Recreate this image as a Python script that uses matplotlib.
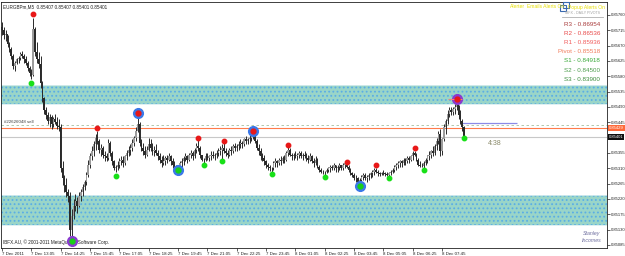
import numpy as np
import matplotlib
matplotlib.use("Agg")
import matplotlib.pyplot as plt

plt.rcParams['font.family'] = ['Liberation Sans', 'DejaVu Sans']
plt.rcParams['hatch.linewidth'] = 0.8

# ------------------------------------------------------------
# Data (prices in points above 0.85000, one M5 bar per entry)
# ------------------------------------------------------------
BASE = 0.85
highs = [
    740, 725, 715, 700, 680, 665, 645, 625, 635, 640, 650, 655, 645, 640, 625, 610,
    600, 750, 725, 680, 650, 640, 565, 520, 490, 475, 470, 465, 460, 470, 460, 455,
    440, 330, 290, 280, 250, 240, 190, 220, 235, 225, 240, 250, 265, 275, 300, 335,
    355, 375, 390, 410, 420, 395, 380, 375, 360, 355, 395, 390, 360, 335, 320, 330,
    340, 345, 345, 350, 365, 375, 380, 395, 405, 430, 465, 445, 395, 385, 375, 375,
    400, 395, 385, 375, 380, 365, 355, 345, 350, 345, 350, 355, 350, 340, 330, 320,
    320, 330, 340, 345, 355, 350, 355, 365, 360, 370, 385, 395, 375, 350, 340, 355,
    355, 350, 360, 360, 355, 365, 370, 375, 380, 390, 370, 365, 370, 375, 380, 385,
    380, 390, 395, 390, 400, 405, 400, 410, 415, 420, 415, 395, 380, 370, 355, 350,
    335, 325, 320, 315, 330, 340, 335, 340, 345, 345, 350, 360, 372, 370, 355, 355,
    360, 355, 360, 360, 355, 360, 355, 350, 355, 350, 340, 345, 340, 320, 310, 305,
    302, 310, 315, 320, 320, 325, 320, 320, 325, 320, 325, 330, 332, 320, 310, 300,
    295, 290, 285, 280, 290, 295, 295, 290, 295, 300, 305, 310, 312, 305, 300, 300,
    305, 300, 298, 298, 305, 310, 320, 325, 330, 335, 335, 340, 340, 345, 345, 350,
    360, 362, 355, 340, 330, 325, 330, 340, 350, 360, 365, 375, 380, 400, 420, 425,
    400, 440, 455, 480, 490, 490, 490, 500, 513, 495, 480, 455, 435,
]
lows = [
    700, 690, 685, 665, 650, 630, 600, 595, 615, 620, 628, 635, 620, 612, 595, 580,
    572, 580, 640, 620, 605, 545, 505, 470, 455, 440, 430, 425, 430, 440, 425, 420,
    300, 260, 240, 225, 210, 110, 105, 160, 185, 180, 195, 215, 230, 245, 260, 285,
    310, 335, 345, 365, 380, 355, 345, 340, 330, 330, 335, 345, 320, 305, 300, 305,
    310, 320, 315, 320, 335, 345, 350, 360, 375, 390, 415, 375, 360, 350, 340, 345,
    360, 360, 350, 345, 350, 335, 325, 315, 320, 320, 325, 330, 320, 310, 305, 303,
    300, 305, 315, 320, 330, 325, 330, 340, 335, 340, 355, 360, 340, 330, 325, 330,
    335, 330, 335, 340, 335, 340, 345, 350, 335, 355, 345, 340, 345, 350, 355, 360,
    360, 365, 370, 370, 375, 380, 380, 385, 390, 395, 385, 365, 350, 335, 330, 320,
    310, 305, 302, 300, 305, 315, 315, 320, 320, 325, 325, 330, 345, 345, 335, 335,
    340, 335, 340, 340, 335, 340, 330, 325, 330, 325, 315, 320, 310, 300, 295, 294,
    291, 295, 300, 300, 305, 305, 300, 300, 305, 305, 305, 310, 310, 300, 290, 285,
    275, 270, 265, 260, 270, 275, 275, 270, 275, 280, 285, 290, 295, 288, 288, 290,
    290, 288, 286, 283, 290, 295, 300, 305, 310, 315, 315, 320, 320, 325, 325, 330,
    335, 345, 330, 318, 315, 313, 310, 320, 325, 335, 340, 345, 350, 365, 380, 345,
    350, 390, 410, 440, 460, 465, 465, 470, 480, 455, 440, 420, 401,
]
closes = [
    715, 700, 705, 675, 660, 640, 610, 620, 630, 635, 645, 640, 630, 620, 605, 590,
    585, 720, 650, 630, 615, 560, 515, 480, 465, 450, 460, 440, 455, 445, 435, 430,
    310, 280, 260, 240, 230, 130, 170, 200, 215, 200, 230, 240, 255, 270, 290, 320,
    345, 360, 380, 400, 390, 365, 370, 350, 345, 340, 385, 355, 330, 310, 315, 320,
    330, 335, 325, 345, 355, 365, 370, 385, 400, 420, 440, 385, 370, 360, 350, 365,
    380, 370, 360, 365, 355, 345, 335, 325, 330, 340, 335, 345, 330, 320, 310, 305,
    315, 325, 330, 340, 345, 335, 350, 355, 345, 365, 375, 370, 350, 335, 335, 345,
    340, 345, 350, 345, 350, 355, 360, 365, 370, 360, 355, 350, 365, 360, 375, 370,
    375, 380, 385, 380, 395, 390, 395, 400, 405, 410, 390, 370, 360, 345, 340, 330,
    320, 315, 310, 310, 325, 330, 325, 335, 330, 340, 335, 355, 365, 350, 345, 350,
    345, 350, 355, 345, 350, 345, 340, 335, 345, 330, 325, 335, 315, 305, 300, 298,
    298, 305, 310, 315, 310, 320, 310, 315, 320, 310, 320, 325, 315, 305, 295, 290,
    280, 280, 270, 275, 285, 290, 280, 285, 290, 295, 300, 305, 300, 295, 292, 295,
    295, 292, 290, 295, 300, 305, 315, 320, 325, 330, 325, 335, 330, 340, 335, 345,
    355, 350, 335, 320, 318, 318, 325, 335, 345, 350, 360, 355, 375, 390, 410, 360,
    395, 430, 450, 470, 480, 475, 485, 490, 495, 465, 450, 430, 401,
]
first_open = 725

# fractal markers (bar index, price in points)
up_idx = [17, 52, 107, 121, 156, 188, 204, 225]
up_val = [763, 428, 399, 390, 379, 329, 320, 370]
ring_up_idx = [74, 137, 248]
ring_up_val = [472, 420, 513]
down_idx = [16, 62, 110, 120, 147, 176, 211, 230, 252]
down_val = [560, 287, 320, 332, 293, 285, 282, 305, 399]
ring_down_idx = [38, 96, 195]
ring_down_val = [97, 305, 258]

# supply / demand zones (points)
zone_upper = (499, 555)
zone_lower = (144, 232)

bid = 0.85401
order_price = 0.85437
orange_level = 0.85429
blue_level = 0.85443

time_labels = ["7 Dec 2011", "7 Dec 13:05", "7 Dec 14:25", "7 Dec 15:45", "7 Dec 17:05",
               "7 Dec 18:25", "7 Dec 19:45", "7 Dec 21:05", "7 Dec 22:25", "7 Dec 23:45",
               "8 Dec 01:05", "8 Dec 02:25", "8 Dec 03:45", "8 Dec 05:05", "8 Dec 06:25",
               "8 Dec 07:45"]
# 0.85400 sits under the bid box, so it is left out
price_ticks = [0.85085, 0.85130, 0.85175, 0.85220, 0.85265, 0.85310, 0.85355,
               0.85445, 0.85490, 0.85535, 0.85580, 0.85625, 0.85670, 0.85715, 0.85760]

pivot_names = ["R3", "R2", "R1", "Pivot", "S1", "S2", "S3"]
pivot_values = [0.86954, 0.86536, 0.85936, 0.85518, 0.84918, 0.84500, 0.83900]
pivot_colors = ["#a83a3a", "#e84848", "#f05a5a", "#f07a5a", "#36a836", "#4a9c4a", "#3a8c3a"]

# ------------------------------------------------------------
# Figure
# ------------------------------------------------------------
fig = plt.figure(figsize=(6.25, 2.56), dpi=100)
ax = fig.add_axes([1 / 625, 8 / 256, 606 / 625, 246 / 256])
ax.set_xlim(-0.55, 330)
ax.set_ylim(0.85076, 0.85798)

hi = BASE + np.array(highs) / 1e5
lo = BASE + np.array(lows) / 1e5
cl = BASE + np.array(closes) / 1e5
op = np.concatenate([[BASE + first_open / 1e5], cl[:-1]])
idx = np.arange(len(cl))

# zones
for a, b in (zone_upper, zone_lower):
    ax.axhspan(BASE + a / 1e5, BASE + b / 1e5, facecolor="#9ad5c8", edgecolor="#5aaee6",
               hatch="....", linewidth=0, zorder=1)
    ax.axhline(BASE + a / 1e5, color="#d8eef0", lw=0.6, zorder=1)
    ax.axhline(BASE + b / 1e5, color="#d8eef0", lw=0.6, zorder=1)

# level lines
ax.axhline(bid, color="#c8c8c8", lw=0.8, zorder=2)
ax.axhline(orange_level, color="#ff7a4a", lw=0.8, zorder=2)
ax.axhline(order_price, color="#a8c0a0", lw=0.6, ls=(0, (3, 3)), zorder=2)
ax.hlines(blue_level, 250, 281, color="#8a8ae8", lw=0.9, zorder=3)
ax.text(1, order_price + 0.00006, "#22626048 sell", fontsize=3.2, color="#404040", zorder=3)

# candles
ax.vlines(idx, lo, hi, color="#2a2a2a", lw=0.7, zorder=4)
bull = cl >= op
ax.bar(idx[bull], (cl - op)[bull], bottom=op[bull], width=0.9, color="#9c9c9c", zorder=5)
ax.bar(idx[~bull], (cl - op)[~bull], bottom=op[~bull], width=0.9, color="#2a2a2a", zorder=5)

# fractals
ax.plot(up_idx, BASE + np.array(up_val) / 1e5, "o", ms=3.2, color="#e81818", zorder=7)
ax.plot(down_idx, BASE + np.array(down_val) / 1e5, "o", ms=3.2, color="#18e018", zorder=7)
ring_up_colors = ["#3a78e8", "#3a78e8", "#8a3ad0"]
for i, v, c in zip(ring_up_idx, ring_up_val, ring_up_colors):
    ax.plot(i, BASE + v / 1e5, "o", ms=7, color=c, zorder=6)
    ax.plot(i, BASE + v / 1e5, "o", ms=3.5, color="#e81818", zorder=7)
ax.hlines(BASE + ring_up_val[2] / 1e5, 243, 251, color="#f08080", lw=0.8, zorder=6)
ring_down_colors = ["#8a3ad0", "#3a78e8", "#3a78e8"]
for i, v, c in zip(ring_down_idx, ring_down_val, ring_down_colors):
    ax.plot(i, BASE + v / 1e5, "o", ms=7, color=c, zorder=6)
    ax.plot(i, BASE + v / 1e5, "o", ms=3.5, color="#18d018", zorder=7)

ax.text(265, 0.85378, "4:38", fontsize=5, color="#8a8a6a", zorder=8)

# axes / ticks
for s in ax.spines.values():
    s.set_linewidth(0.6)
    s.set_color("#202020")
ax.yaxis.tick_right()
ax.set_yticks(price_ticks)
ax.set_yticklabels([f"{p:.5f}" for p in price_ticks])
ax.tick_params(axis="y", labelsize=3.0, length=2, width=0.5, pad=0.8, colors="#202020")
ax.set_xticks(np.arange(len(time_labels)) * 16)
ax.set_xticklabels(time_labels)
for lbl in ax.get_xticklabels():
    lbl.set_horizontalalignment("left")
ax.tick_params(axis="x", labelsize=3.2, length=2.5, width=0.5, pad=0.5, colors="#202020")

# current price boxes on the right axis
ytr = ax.get_yaxis_transform()
ax.text(1.003, orange_level, f"{orange_level:.5f}", transform=ytr, fontsize=3.0, color="white",
        va="center", clip_on=False, zorder=9,
        bbox=dict(boxstyle="square,pad=0.25", fc="#ff6a3a", ec="none"))
ax.text(1.003, bid, f"{bid:.5f}", transform=ytr, fontsize=3.0, color="white",
        va="center", clip_on=False, zorder=9,
        bbox=dict(boxstyle="square,pad=0.25", fc="#101010", ec="none"))

# texts in the chart
ax.text(0.004, 0.992, "EURGBPm,M5  0.85407 0.85407 0.85401 0.85401", transform=ax.transAxes,
        fontsize=3.3, color="#202020", va="top")
ax.text(0.004, 0.012, "IBFX.AU, \u00a9 2001-2011 MetaQuotes Software Corp.", transform=ax.transAxes,
        fontsize=3.3, color="#202020", va="bottom")

# alerts header
fig.text(510 / 625, 1 - 7 / 256, "Alerter", fontsize=3.6, color="#e8e000", va="center")
fig.text(527 / 625, 1 - 7 / 256, "Emails Alerts On", fontsize=3.6, color="#e8e000", va="center")
fig.text(568 / 625, 1 - 7 / 256, "Popup Alerts On", fontsize=3.6, color="#e8e000", va="center")
fig.patches.append(plt.Rectangle((560 / 625, 1 - 11 / 256), 6 / 625, 6 / 256, transform=fig.transFigure,
                                 fill=False, ec="#3a6ab0", lw=0.8))
fig.patches.append(plt.Rectangle((563 / 625, 1 - 8 / 256), 6 / 625, 6 / 256, transform=fig.transFigure,
                                 fill=False, ec="#3a6ab0", lw=0.8))

# pivot panel
fig.text(600 / 625, 1 - 13 / 256, "IBFX - DAILY PIVOTS", fontsize=2.6, color="#a0a0a0",
         ha="right", va="center")
fig.lines.append(plt.Line2D([562 / 625, 603 / 625], [1 - 17 / 256] * 2, transform=fig.transFigure,
                            color="#b0b0b0", lw=0.6))
for k, (n, v, c) in enumerate(zip(pivot_names, pivot_values, pivot_colors)):
    fig.text(600 / 625, 1 - (24 + k * 9.2) / 256, f"{n} - {v:.5f}", fontsize=4.5, color=c,
             ha="right", va="center")

# logo
fig.text(600 / 625, 1 - 233 / 256, "Stanley", fontsize=3.8, color="#7070a0", ha="right",
         va="center", style="italic")
fig.text(602 / 625, 1 - 240 / 256, "Incomes", fontsize=3.8, color="#7070a0", ha="right",
         va="center", style="italic")

fig.savefig("out.png", dpi=100)
